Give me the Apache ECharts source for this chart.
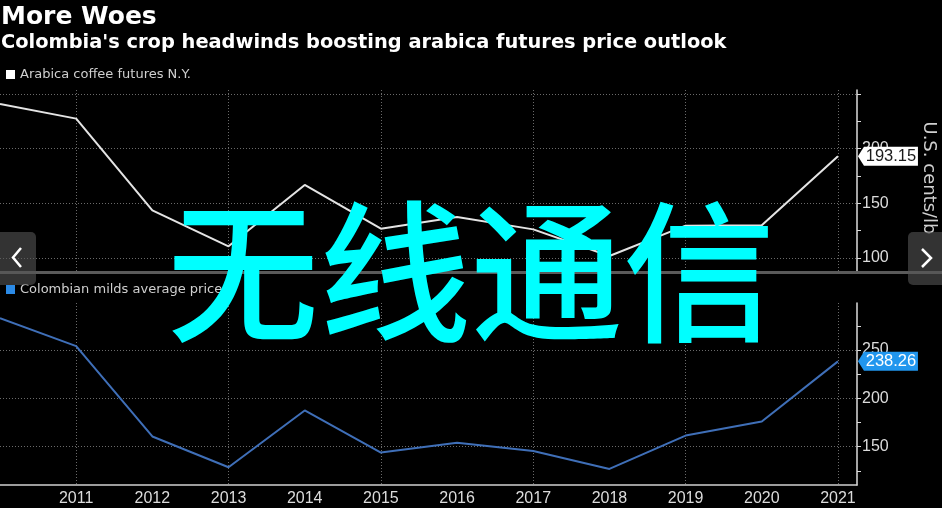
<!DOCTYPE html>
<html><head><meta charset="utf-8">
<script src="https://cdn.jsdelivr.net/npm/echarts@6/dist/echarts.min.js"></script>
<style>html,body{margin:0;padding:0;background:#000;}#c{width:942px;height:508px;}</style>
</head><body><div id="c"></div>
<script>
// ---- data ----
const titleText = 'More Woes';
const subtitleText = "Colombia's crop headwinds boosting arabica futures price outlook";
const seriesNames = ['Arabica coffee futures N.Y.', 'Colombian milds average price'];
const years = [2010, 2011, 2012, 2013, 2014, 2015, 2016, 2017, 2018, 2019, 2020, 2021];
const arabica = [241.0, 227.5, 143.6, 110.7, 166.8, 126.8, 137.6, 126.2, 101.8, 129.6, 130.0, 193.15];
const milds = [283.0, 254.0, 160.6, 128.8, 187.5, 144.0, 154.0, 145.5, 127.0, 161.5, 176.0, 238.26];
const yearLabels = [2011, 2012, 2013, 2014, 2015, 2016, 2017, 2018, 2019, 2020, 2021];
const gridYears = [2011, 2013, 2015, 2017, 2019, 2021];
const topTicks = [100, 125, 150, 175, 200, 225, 250];
const topLabels = [100, 150, 200];
const topGridVals = [100, 150, 200, 250];
const botTicks = [125, 150, 175, 200, 225, 250, 275];
const botLabels = [150, 200, 250];
const botGridVals = [150, 200, 250];
const axisUnit = 'U.S. cents/lb';
const watermark = '无线通信';

// ---- chart ----
const AXF = 'Liberation Sans';
const gridLine = { show: true, lineStyle: { color: '#6a6a6a', width: 1, type: [1, 2] } };
const chart = echarts.init(document.getElementById('c'));

function pairs(vals) { return years.map((y, i) => [y, vals[i]]); }

function yMain(grid, min, max, ticks, labels) {
  return {
    gridIndex: grid, type: 'value', position: 'right', min: min, max: max,
    axisLine: { show: true, onZero: false, lineStyle: { color: '#dcdcdc', width: 1.5 } },
    axisTick: { show: true, length: 4, customValues: ticks, lineStyle: { color: '#dcdcdc', width: 1 } },
    axisLabel: { customValues: labels, color: '#dcdcdc', fontSize: 16, fontFamily: AXF, margin: 5 },
    splitLine: { show: false }
  };
}
function yGrid(grid, min, max, vals) {
  return {
    gridIndex: grid, type: 'value', position: 'right', min: min, max: max,
    axisLine: { show: false }, axisTick: { show: false, customValues: vals },
    axisLabel: { show: false }, splitLine: gridLine
  };
}
function valueBox(val, fill, textColor) {
  return {
    symbol: 'path://M0,9.5L6,0L60,0L60,19L6,19Z', symbolSize: [60, 19], symbolKeepAspect: false,
    symbolOffset: [50, 0], silent: true,
    itemStyle: { color: fill },
    label: { show: true, position: 'inside', offset: [3, 0], color: textColor, fontSize: 16.5, fontFamily: AXF,
      formatter: p => Number(p.value).toFixed(2) },
    data: [{ coord: [years[years.length - 1], val], value: val }]
  };
}

const option = {
  backgroundColor: '#000',
  animation: false,
  title: [
    { text: titleText, left: 1, top: 5, padding: 0,
      textStyle: { color: '#fff', fontFamily: 'DejaVu Sans', fontWeight: 'bold', fontSize: 25 } },
    { text: subtitleText, left: 1, top: 33, padding: 0,
      textStyle: { color: '#fff', fontFamily: 'DejaVu Sans', fontWeight: 'bold', fontSize: 19.4 } }
  ],
  legend: [
    { data: [{ name: seriesNames[0], itemStyle: { color: '#ffffff' } }], left: 6, top: 68, padding: 0,
      icon: 'rect', itemWidth: 9, itemHeight: 9, selectedMode: false,
      textStyle: { color: '#cfcfcf', fontFamily: 'DejaVu Sans', fontSize: 13 } },
    { data: [{ name: seriesNames[1], itemStyle: { color: '#2b8ae6' } }], left: 6, top: 283, padding: 0,
      icon: 'rect', itemWidth: 9, itemHeight: 9, selectedMode: false,
      textStyle: { color: '#cfcfcf', fontFamily: 'DejaVu Sans', fontSize: 13 } }
  ],
  grid: [
    { left: 0, right: 85, top: 90, height: 182 },
    { left: 0, right: 85, top: 303, height: 182 }
  ],
  xAxis: [
    { gridIndex: 0, type: 'value', min: 2010, max: 2021.25,
      axisLine: { show: false }, axisTick: { show: false, customValues: gridYears },
      axisLabel: { show: false }, splitLine: gridLine },
    { gridIndex: 1, type: 'value', min: 2010, max: 2021.25,
      axisLine: { show: true, onZero: false, lineStyle: { color: '#cfcfcf', width: 1.5 } },
      axisTick: { show: false, customValues: gridYears },
      axisLabel: { customValues: yearLabels, color: '#dcdcdc', fontSize: 16, fontFamily: AXF, margin: 6,
        formatter: v => String(v) },
      splitLine: gridLine }
  ],
  yAxis: [
    yMain(0, 87.2, 253.7, topTicks, topLabels),
    yGrid(0, 87.2, 253.7, topGridVals),
    yMain(1, 110.4, 298.6, botTicks, botLabels),
    yGrid(1, 110.4, 298.6, botGridVals)
  ],
  series: [
    { name: seriesNames[0], type: 'line', xAxisIndex: 0, yAxisIndex: 0, data: pairs(arabica),
      symbol: 'none', clip: false, itemStyle: { color: '#ffffff' },
      lineStyle: { color: '#e4e4e4', width: 2 }, z: 5,
      markPoint: valueBox(arabica[arabica.length - 1], '#ffffff', '#1a1a1a') },
    { name: seriesNames[1], type: 'line', xAxisIndex: 1, yAxisIndex: 2, data: pairs(milds),
      symbol: 'none', clip: false, itemStyle: { color: '#2b8ae6' },
      lineStyle: { color: '#3f6fb8', width: 2 }, z: 5,
      markPoint: valueBox(milds[milds.length - 1], '#2196ee', '#ffffff') }
  ],
  graphic: [
    { type: 'rect', shape: { x: 0, y: 271, width: 942, height: 3 }, style: { fill: '#5a5a5a' }, z: 1 },
    { type: 'text', x: 929, y: 178, rotation: -Math.PI / 2, z: 10,
      style: { text: axisUnit, fill: '#cfcfcf', font: '18px "DejaVu Sans"', align: 'center', verticalAlign: 'middle' } },
    { type: 'rect', shape: { x: 0, y: 232, width: 36, height: 53, r: [0, 5, 5, 0] }, style: { fill: 'rgba(85,85,85,0.6)' }, z: 50 },
    { type: 'polyline', shape: { points: [[21, 248], [13, 257.5], [21, 267]] }, style: { stroke: '#fff', lineWidth: 2.5, fill: null }, z: 51 },
    { type: 'rect', shape: { x: 908, y: 232, width: 34, height: 53, r: [5, 0, 0, 5] }, style: { fill: 'rgba(85,85,85,0.6)' }, z: 50 },
    { type: 'polyline', shape: { points: [[922, 249], [931, 258], [922, 267]] }, style: { stroke: '#fff', lineWidth: 2.5, fill: null }, z: 51 },
    { type: 'text', x: 471, y: 272, z: 100,
      style: { text: watermark, fill: '#00ffff', font: '500 152px "Noto Sans CJK SC"', align: 'center', verticalAlign: 'middle' } }
  ]
};
chart.setOption(option);
</script></body></html>
